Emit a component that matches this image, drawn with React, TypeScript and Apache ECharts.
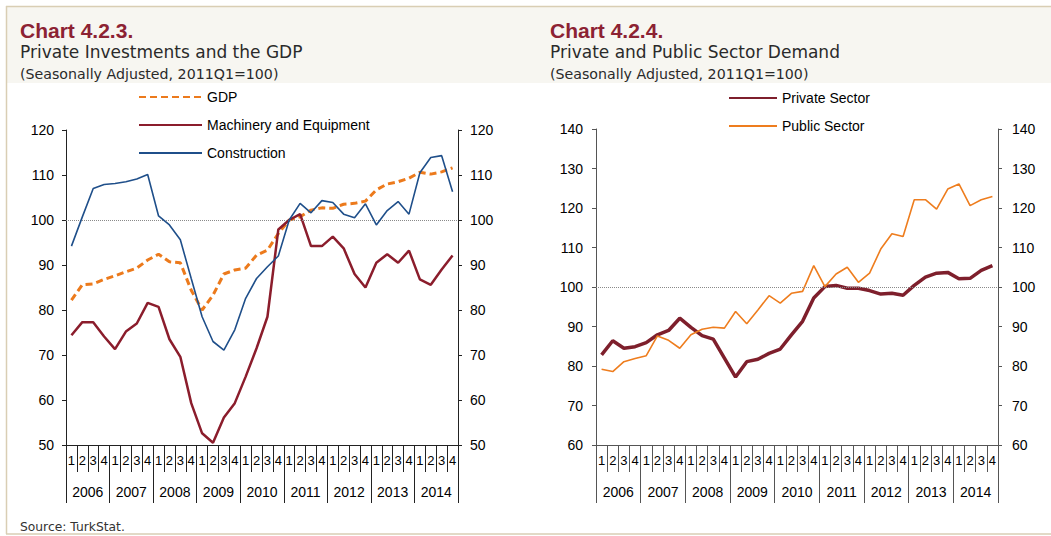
import React, { useEffect, useRef } from "react";
import * as echarts from "echarts";

const years = ["2006", "2007", "2008", "2009", "2010", "2011", "2012", "2013", "2014"];
const quarters = ["1", "2", "3", "4"];

const gdp = [82.2, 85.6, 85.8, 86.8, 87.6, 88.5, 89.3, 91.1, 92.4, 90.7, 90.5, 84.4, 80.0, 83.3, 88.0, 88.9, 89.3, 92.2, 93.3, 97.0, 100.0, 100.7, 102.2, 102.7, 102.6, 103.5, 103.7, 104.2, 106.7, 108.0, 108.5, 109.3, 110.6, 110.2, 110.7, 111.6];
const machinery = [74.4, 77.3, 77.3, 74.1, 71.3, 75.2, 77.0, 81.6, 80.7, 73.5, 69.6, 59.3, 52.6, 50.5, 56.1, 59.3, 65.2, 71.5, 78.5, 97.9, 100.0, 101.3, 94.2, 94.2, 96.3, 93.7, 88.0, 85.0, 90.5, 92.4, 90.5, 93.2, 86.8, 85.6, 89.0, 92.1];
const construction = [94.2, 100.7, 107.0, 107.9, 108.1, 108.5, 109.1, 110.1, 100.9, 98.9, 95.6, 87.0, 78.5, 73.0, 71.1, 75.6, 82.6, 87.0, 89.6, 92.0, 100.0, 103.7, 101.6, 104.3, 103.9, 101.3, 100.5, 103.6, 98.9, 102.1, 104.1, 101.3, 110.5, 113.9, 114.3, 106.3];
const privateSector = [82.8, 86.4, 84.5, 84.9, 85.9, 87.9, 89.0, 92.1, 89.8, 87.7, 86.8, 82.0, 77.2, 81.1, 81.7, 83.2, 84.3, 87.9, 91.3, 97.2, 100.1, 100.4, 99.7, 99.7, 99.1, 98.2, 98.4, 97.9, 100.4, 102.5, 103.5, 103.7, 102.1, 102.2, 104.2, 105.4];
const publicSector = [79.2, 78.6, 81.1, 81.9, 82.6, 87.6, 86.5, 84.5, 87.9, 89.3, 89.8, 89.6, 93.8, 90.7, 94.2, 97.8, 95.9, 98.4, 98.9, 105.4, 100.1, 103.3, 105.0, 101.2, 103.5, 109.6, 113.5, 112.8, 122.1, 122.1, 119.7, 124.8, 126.1, 120.6, 122.1, 122.9];

const leftTicks = { min: 50, max: 120, interval: 10 };
const rightTicks = { min: 60, max: 140, interval: 10 };

const quarterCats: string[] = [];
years.forEach((y) => quarters.forEach((q) => quarterCats.push(q)));

const AXIS_FONT = "'Liberation Sans', Arial, sans-serif";
const HEAD_FONT = "'DejaVu Sans', sans-serif";

function quarterAxis(gridIndex: number, color: string) {
  return {
    type: "category",
    gridIndex,
    position: "bottom",
    data: quarterCats,
    boundaryGap: true,
    axisLine: { show: true, lineStyle: { color, width: 1 } },
    axisTick: { show: true, length: 27, interval: 0, lineStyle: { color, width: 1 } },
    axisLabel: { interval: 0, margin: 9, fontSize: 13, color: "#000", fontFamily: AXIS_FONT },
    splitLine: { show: false },
  };
}
function yearAxis(gridIndex: number, color: string) {
  return {
    type: "category",
    gridIndex,
    position: "bottom",
    offset: 0,
    data: years,
    boundaryGap: true,
    axisLine: { show: false },
    axisTick: { show: true, length: 58, interval: 0, lineStyle: { color, width: 1 } },
    axisLabel: { interval: 0, margin: 40, fontSize: 14, color: "#000", fontFamily: AXIS_FONT },
    splitLine: { show: false },
  };
}
function valAxis(gridIndex: number, pos: string, t: any, color: string, margin: number) {
  return {
    type: "value",
    gridIndex,
    position: pos,
    min: t.min,
    max: t.max,
    interval: t.interval,
    axisLine: { show: true, lineStyle: { color, width: 1 } },
    axisTick: { show: true, length: 4, lineStyle: { color } },
    axisLabel: { margin, fontSize: 14, color: "#000", fontFamily: AXIS_FONT },
    splitLine: { show: false },
  };
}

const refLine = {
  silent: true,
  symbol: "none",
  label: { show: false },
  lineStyle: { type: "dotted", color: "#8a8a8a", width: 1 },
  data: [{ yAxis: 100 }],
};

export default function App() {
  const ref = useRef<HTMLDivElement>(null);
  useEffect(() => {
    if (!ref.current) return;
    const chart = echarts.init(ref.current, null, { renderer: "svg" });
    const headText = (x: number, y: number, text: string, size: number, color: string, weight = "normal", family = HEAD_FONT) => ({
      type: "text",
      x,
      y,
      style: { text, fontSize: size, fill: color, fontWeight: weight, fontFamily: family, textVerticalAlign: "middle" },
    });
    chart.setOption({
      animation: false,
      backgroundColor: "#ffffff",
      graphic: [
        { type: "rect", shape: { x: 6, y: 7, width: 1045, height: 76 }, style: { fill: "#f7f6f1" }, z: -10 },
        { type: "line", shape: { x1: 6, y1: 6.5, x2: 1051, y2: 6.5 }, style: { stroke: "#d9ceb4", lineWidth: 1.5 } },
        { type: "line", shape: { x1: 6.5, y1: 6, x2: 6.5, y2: 534 }, style: { stroke: "#d9ceb4", lineWidth: 1.5 } },
        { type: "line", shape: { x1: 6, y1: 534, x2: 1051, y2: 534 }, style: { stroke: "#d9ceb4", lineWidth: 1.5 } },
        headText(20, 30, "Chart 4.2.3.", 21, "#8c2233", "bold", "'Liberation Sans', Arial, sans-serif"),
        headText(20, 52, "Private Investments and the GDP", 17, "#2a2a2a"),
        headText(20, 74, "(Seasonally Adjusted, 2011Q1=100)", 14.2, "#2a2a2a"),
        headText(550, 30, "Chart 4.2.4.", 21, "#8c2233", "bold", "'Liberation Sans', Arial, sans-serif"),
        headText(550, 52, "Private and Public Sector Demand", 17, "#2a2a2a"),
        headText(550, 74, "(Seasonally Adjusted, 2011Q1=100)", 14.2, "#2a2a2a"),
        headText(20, 527, "Source: TurkStat.", 12.3, "#333333"),
      ],
      legend: [
        {
          data: ["GDP", "Machinery and Equipment", "Construction"],
          orient: "vertical",
          left: 133,
          top: 85,
          itemWidth: 63,
          itemHeight: 14,
          itemGap: 14,
          itemStyle: { opacity: 0 },
          textStyle: { fontSize: 14, color: "#000", fontFamily: AXIS_FONT },
        },
        {
          data: ["Private Sector", "Public Sector"],
          orient: "vertical",
          left: 723,
          top: 86,
          itemWidth: 48,
          itemHeight: 14,
          itemGap: 14,
          itemStyle: { opacity: 0 },
          textStyle: { fontSize: 14, color: "#000", fontFamily: AXIS_FONT },
        },
      ],
      grid: [
        { left: 66, top: 130, width: 392, height: 315 },
        { left: 596, top: 129, width: 402, height: 316 },
      ],
      xAxis: [quarterAxis(0, "#222"), yearAxis(0, "#222"), quarterAxis(1, "#555"), yearAxis(1, "#555")],
      yAxis: [
        valAxis(0, "left", leftTicks, "#222", 12),
        valAxis(0, "right", leftTicks, "#222", 12),
        valAxis(1, "left", rightTicks, "#555", 13),
        valAxis(1, "right", rightTicks, "#555", 14),
      ],
      series: [
        {
          name: "GDP",
          type: "line",
          xAxisIndex: 0,
          yAxisIndex: 0,
          data: gdp,
          symbol: "none",
          color: "#ec7a1c",
          lineStyle: { color: "#ec7a1c", width: 3, type: [7, 4] },
          z: 3,
          markLine: refLine,
        },
        {
          name: "Machinery and Equipment",
          type: "line",
          xAxisIndex: 0,
          yAxisIndex: 0,
          data: machinery,
          symbol: "none",
          color: "#8b1d2c",
          lineStyle: { color: "#8b1d2c", width: 2.5 },
          z: 4,
        },
        {
          name: "Construction",
          type: "line",
          xAxisIndex: 0,
          yAxisIndex: 0,
          data: construction,
          symbol: "none",
          color: "#1f4f8a",
          lineStyle: { color: "#1f4f8a", width: 1.6 },
          z: 5,
        },
        {
          name: "Private Sector",
          type: "line",
          xAxisIndex: 2,
          yAxisIndex: 2,
          data: privateSector,
          symbol: "none",
          color: "#7e1f2c",
          lineStyle: { color: "#7e1f2c", width: 3.5 },
          z: 3,
          markLine: refLine,
        },
        {
          name: "Public Sector",
          type: "line",
          xAxisIndex: 2,
          yAxisIndex: 2,
          data: publicSector,
          symbol: "none",
          color: "#ee7d1e",
          lineStyle: { color: "#ee7d1e", width: 1.6 },
          z: 4,
        },
      ],
    });
    return () => chart.dispose();
  }, []);
  return <div ref={ref} style={{ position: "fixed", left: 0, top: 0, width: 1051, height: 536 }} />;
}
